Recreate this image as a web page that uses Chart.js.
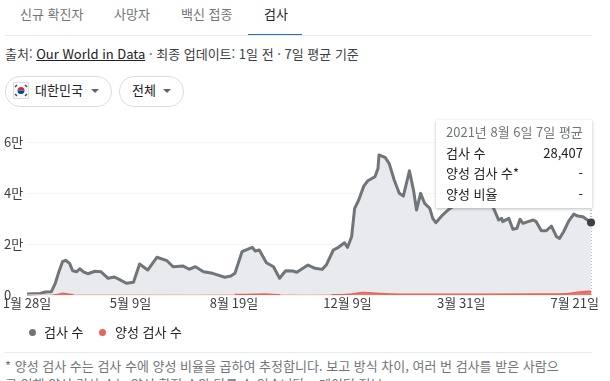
<!DOCTYPE html>
<html lang="ko">
<head>
<meta charset="utf-8">
<script src="https://cdn.jsdelivr.net/npm/chart.js@4"></script>
<style>
  html, body { margin: 0; padding: 0; background: #fff; }
  body { width: 610px; height: 381px; overflow: hidden; position: relative;
         font-family: "Noto Sans CJK KR", "Noto Sans", sans-serif; font-size: 13px; color: #202124; }
  .abs { position: absolute; white-space: nowrap; line-height: 18px; }
  .tab { top: 5px; color: #70757a; }
  .line { position: absolute; height: 1px; background: #e8eaed; left: 5px; width: 587px; }
  .chip { position: absolute; top: 76px; height: 29px; border: 1px solid #dadce0; border-radius: 15px; }
  .caret { position: absolute; top: 89px; width: 0; height: 0; border-left: 4px solid transparent;
           border-right: 4px solid transparent; border-top: 4px solid #5f6368; }
  .dot { position: absolute; top: 329px; width: 7px; height: 7px; border-radius: 50%; }
  #wrap { position: absolute; left: 0; top: 130px; width: 610px; height: 195px; }
  #tip { position: absolute; left: 436px; top: 120px; width: 156px; height: 88px; background: #fff;
         box-shadow: 0 1px 3px rgba(60,64,67,.35); }
  #tip div { position: absolute; left: 10px; right: 9px; line-height: 18px; white-space: nowrap; }
  #tip span { position: absolute; right: 0; }
</style>
</head>
<body>
<div class="abs tab" style="left:20px">신규 확진자</div>
<div class="abs tab" style="left:114px">사망자</div>
<div class="abs tab" style="left:181px">백신 접종</div>
<div class="abs tab" style="left:264px;color:#202124">검사</div>
<div class="line" style="top:35px"></div>
<div class="line" style="top:34px;left:248px;width:54px;background:#1a73e8"></div>

<div class="abs" style="left:5px;top:45px;color:#3c4043">출처: <span style="text-decoration:underline;color:#202124">Our World in Data</span> · 최종 업데이트: 1일 전 · 7일 평균 기준</div>

<div class="chip" style="left:5px;width:105px"></div>
<div class="chip" style="left:119px;width:63px"></div>
<svg class="abs" style="left:13px;top:82px" width="16" height="17" viewBox="0 0 16 17">
  <rect x="0.5" y="0.5" width="15" height="16" fill="#fafafa" stroke="#dadce0"/>
  <path d="M4.5 8.5a3.5 3.5 0 0 1 7 0z" fill="#cd2e3a"/>
  <path d="M4.5 8.5a3.5 3.5 0 0 0 7 0z" fill="#0047a0"/>
  <path d="M2 5l2-2M12 3l2 2M2 12l2 2M12 14l2-2" stroke="#444" stroke-width="1.4"/>
</svg>
<div class="abs" style="left:35px;top:81px">대한민국</div>
<div class="caret" style="left:91px"></div>
<div class="abs" style="left:132px;top:81px">전체</div>
<div class="caret" style="left:163px"></div>

<div id="wrap"><canvas id="myChart"></canvas></div>

<div id="tip">
  <div style="top:3px;color:#70757a">2021년 8월 6일 7일 평균</div>
  <div style="top:24px">검사 수<span>28,407</span></div>
  <div style="top:44px">양성 검사 수*<span>-</span></div>
  <div style="top:65px">양성 비율<span>-</span></div>
</div>

<div class="dot" style="left:29px;background:#70757a"></div>
<div class="abs" style="left:44px;top:323px">검사 수</div>
<div class="dot" style="left:99px;background:#ea6455"></div>
<div class="abs" style="left:115px;top:323px">양성 검사 수</div>
<div class="line" style="top:352px"></div>
<div class="abs" style="left:5px;top:357px;color:#70757a">* 양성 검사 수는 검사 수에 양성 비율을 곱하여 추정합니다. 보고 방식 차이, 여러 번 검사를 받은 사람으</div>
<div class="abs" style="left:5px;top:375px;color:#70757a">로 인해 양성 검사 수는 양성 확진 수와 다를 수 있습니다. · 데이터 정보</div>

<script>
// days since 2020-01-28
const tickDays = [0, 102, 204, 316, 428, 540];
const tickLabels = ["1월 28일", "5월 9일", "8월 19일", "12월 9일", "3월 31일", "7월 21일"];
const lastDay = 556;

const testDays = [0, 13, 18, 24, 28, 31, 35, 38, 42, 45, 49, 52, 56, 60, 67, 73, 80, 86, 92, 98, 105, 111, 119, 128, 138, 144, 154, 160, 166, 174, 183, 195, 201, 205, 212, 222, 225, 229, 236, 243, 249, 255, 262, 266, 272, 277, 284, 291, 295, 302, 307, 313, 316, 320, 323, 327, 332, 336, 343, 346, 347, 353, 357, 362, 367, 371, 377, 381, 384, 388, 392, 397, 400, 403, 409, 415, 422, 432, 442, 452, 460, 465, 468, 469, 475, 479, 483, 486, 489, 494, 499, 502, 507, 512, 517, 522, 525, 529, 534, 539, 543, 548, 556];
const tests = [400, 600, 1200, 1300, 4700, 8600, 13050, 13600, 12400, 9500, 9100, 10300, 9000, 8350, 9300, 9100, 6550, 7050, 5900, 4600, 5000, 12150, 9800, 14800, 13450, 11100, 11350, 10100, 11100, 9150, 8500, 6950, 7450, 8500, 17000, 18700, 17250, 17650, 12650, 11100, 6550, 9500, 9400, 8900, 10450, 11750, 10450, 10050, 11750, 17650, 18700, 20500, 18700, 22850, 34000, 37250, 42700, 44800, 46400, 49650, 54900, 54000, 51600, 45100, 39900, 38800, 48700, 41150, 33300, 39850, 35950, 34000, 30050, 28350, 31100, 33300, 35300, 37250, 39200, 37250, 34000, 29400, 30050, 28750, 30050, 25750, 26150, 29700, 28100, 28750, 29400, 28750, 25200, 25200, 27050, 22850, 22200, 24800, 29000, 31750, 30950, 30700, 28407];

const posDays = [0, 25, 32, 35, 40, 46, 60, 100, 195, 205, 225, 235, 250, 300, 318, 331, 345, 360, 378, 400, 500, 530, 545, 555, 556];
const positives = [0, 0, 300, 700, 400, 100, 60, 50, 50, 150, 300, 350, 100, 60, 300, 1000, 700, 350, 250, 300, 350, 500, 1200, 1500, 800];

function pairs(xs, ys) {
  return xs.map((x, i) => ({ x: x, y: ys[i] }));
}

new Chart(document.getElementById("myChart"), {
  type: "line",
  data: {
    datasets: [
      {
        label: "양성 검사 수",
        data: pairs(posDays, positives),
        borderColor: "#ea6455",
        backgroundColor: "rgba(234,100,85,0.85)",
        borderWidth: 1.5,
        fill: "origin",
        pointRadius: 0,
        tension: 0.3,
        segment: { borderColor: (ctx) => ctx.p0.parsed.y < 200 && ctx.p1.parsed.y < 200 ? "#f7bdb7" : undefined },
        order: 1
      },
      {
        label: "검사 수",
        data: pairs(testDays, tests),
        borderColor: "#70757a",
        backgroundColor: "#e8eaed",
        borderWidth: 3,
        borderJoinStyle: "round",
        fill: "origin",
        tension: 0,
        clip: false,
        pointRadius: (ctx) => ctx.dataIndex === testDays.length - 1 ? 4 : 0,
        pointBackgroundColor: "#3c4043",
        pointBorderColor: "#3c4043",
        pointBorderWidth: 0,
        order: 2
      },
      {
        label: "hover",
        data: [{ x: lastDay, y: 0 }, { x: lastDay, y: 60000 }],
        borderColor: "#70757a",
        borderWidth: 1,
        borderDash: [1, 2],
        pointRadius: 0,
        fill: false,
        clip: false,
        order: 3
      }
    ]
  },
  options: {
    responsive: true,
    maintainAspectRatio: false,
    animation: false,
    events: [],
    layout: { padding: { top: 12, right: 19, left: 4, bottom: 0 } },
    plugins: { legend: { display: false }, tooltip: { enabled: false } },
    scales: {
      x: {
        type: "linear",
        min: 0,
        max: lastDay,
        grid: { display: false, drawTicks: false },
        border: { display: false },
        afterBuildTicks: (axis) => { axis.ticks = tickDays.map((d) => ({ value: d })); },
        afterFit: (axis) => { axis.height = 30; },
        ticks: {
          autoSkip: false,
          maxRotation: 0,
          padding: 0,
          color: "#3c4043",
          font: { family: "'Noto Sans CJK KR'", size: 13 },
          callback: (v) => tickLabels[tickDays.indexOf(v)]
        }
      },
      y: {
        min: 0,
        max: 60000,
        grid: { color: "#f5f5f5", drawTicks: false },
        border: { display: false },
        afterFit: (axis) => { axis.width = 23; },
        ticks: {
          stepSize: 20000,
          padding: 4,
          crossAlign: "far",
          color: "#3c4043",
          font: { family: "'Noto Sans CJK KR'", size: 13 },
          callback: (v) => v === 0 ? "0" : (v / 10000) + "만"
        }
      }
    }
  }
});
</script>
</body>
</html>
